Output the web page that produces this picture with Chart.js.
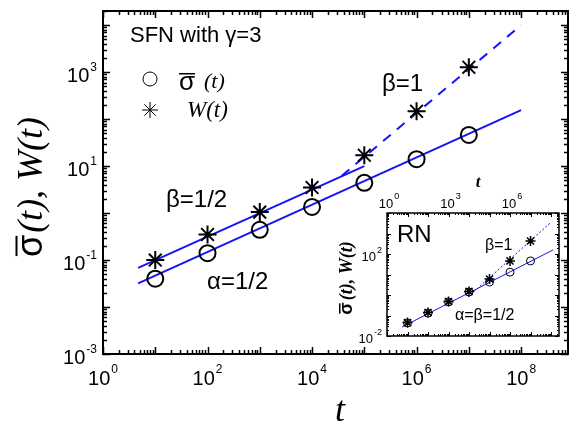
<!DOCTYPE html>
<html>
<head>
<meta charset="utf-8">
<script src="https://cdn.jsdelivr.net/npm/chart.js@4.4.0/dist/chart.umd.min.js"></script>
<style>
  html, body { margin: 0; padding: 0; background: #fff; }
  #wrap { position: relative; width: 579px; height: 430px; }
  #main { position: absolute; left: 0; top: 0; }
  #inset { position: absolute; left: 335px; top: 170px; }
</style>
</head>
<body>
<div id="wrap">
  <canvas id="main" width="579" height="430"></canvas>
  <canvas id="inset" width="244" height="190"></canvas>
</div>
<script>
// SFN (gamma = 3), main panel
const times = [10, 100, 1e3, 1e4, 1e5, 1e6, 1e7];
const sigmaSFN = [0.04, 0.14, 0.44, 1.35, 4.4, 14, 46];
const widthSFN = [0.1, 0.35, 1.05, 3.5, 17, 147, 1270];
const fitHalfT = [4.7, 1e5];
const fitHalfY = [0.068, 10];
const fitAlphaT = [4.7, 1e8];
const fitAlphaY = [0.032, 155];
const fitOneT = [3.7e4, 1e8];
const fitOneY = [6.2, 1e4];

// RN, inset
const sigmaRN = [0.043, 0.13, 0.46, 1.4, 4.3, 13, 46];
const widthRN = [0.045, 0.14, 0.48, 1.5, 6, 46, 430];
const rnHalfT = [5.4, 1.26e8];
const rnHalfY = [0.0275, 158];
const rnOneT = [9e3, 9e7];
const rnOneY = [0.8, 3200];

// labelled decades (exponents)
const mainXLabels = [0, 2, 4, 6, 8];
const mainYLabels = [-3, -1, 1, 3];
const insetXLabels = [0, 3, 6];
const insetYLabels = [-2, 2];

const BLUE = 'rgb(20,20,245)';
const SANS = '"Liberation Sans", Arial, sans-serif';
const SERIF = '"Liberation Serif", "Times New Roman", serif';

const pts = (xs, ys) => xs.map((v, i) => ({ x: v, y: ys[i] }));

function lineSet(xs, ys, width, dash) {
  return {
    data: pts(xs, ys), showLine: true, borderColor: BLUE, borderWidth: width,
    borderDash: dash || [], pointRadius: 0, fill: false
  };
}
function markSet(xs, ys, style, r, bw) {
  return {
    data: pts(xs, ys), showLine: false, pointStyle: style, pointRadius: r,
    pointBorderColor: '#000', pointBackgroundColor: 'rgba(0,0,0,0)', pointBorderWidth: bw
  };
}

// every 1..9 x 10^n inside [min, max]
function logTicks(min, max) {
  const out = [];
  for (let e = Math.floor(Math.log10(min)); e <= Math.ceil(Math.log10(max)); e++) {
    for (let m = 1; m < 10; m++) {
      const v = m * Math.pow(10, e);
      if (v >= min * 0.999 && v <= max * 1.001) out.push({ v, major: m === 1 });
    }
  }
  return out;
}

// box with inward ticks on all four sides
function frameTicks(o) {
  return {
    id: 'frameTicks',
    beforeDraw(chart) {
      if (!o.fill) return;
      const a = chart.chartArea;
      chart.ctx.save();
      chart.ctx.fillStyle = '#fff';
      chart.ctx.fillRect(a.left, a.top, a.right - a.left, a.bottom - a.top);
      chart.ctx.restore();
    },
    afterDraw(chart) {
      const { ctx, chartArea: a } = chart;
      const { x, y } = chart.scales;
      ctx.save();
      ctx.strokeStyle = '#000';
      ctx.lineWidth = o.tickW;
      ctx.beginPath();
      logTicks(x.min, x.max).forEach(t => {
        const px = Math.round(x.getPixelForValue(t.v)) + 0.5;
        const len = t.major ? o.major : o.minor;
        ctx.moveTo(px, a.bottom); ctx.lineTo(px, a.bottom - len);
        ctx.moveTo(px, a.top); ctx.lineTo(px, a.top + len);
      });
      logTicks(y.min, y.max).forEach(t => {
        const py = Math.round(y.getPixelForValue(t.v)) + 0.5;
        const len = t.major ? o.major : o.minor;
        ctx.moveTo(a.left, py); ctx.lineTo(a.left + len, py);
        ctx.moveTo(a.right, py); ctx.lineTo(a.right - len, py);
      });
      ctx.stroke();
      ctx.lineWidth = o.lw;
      ctx.strokeRect(a.left, a.top, a.right - a.left, a.bottom - a.top);
      ctx.restore();
    }
  };
}

// "10" with a raised exponent
function powLabel(ctx, exp, x, base, align, big, small, raise) {
  const sup = String(exp);
  ctx.font = big + 'px ' + SANS;
  const wb = ctx.measureText('10').width;
  ctx.font = small + 'px ' + SANS;
  const ws = ctx.measureText(sup).width;
  const w = wb + ws + 1;
  const left = align === 'center' ? x - w / 2 : x - w;
  ctx.font = big + 'px ' + SANS;
  ctx.fillText('10', left, base);
  ctx.font = small + 'px ' + SANS;
  ctx.fillText(sup, left + wb + 1, base - raise);
}

// sigma with overbar followed by italic text, rotated to read upwards
function sigmaTitle(ctx, cx, cy, baseX, size, bold, barX) {
  const sFont = (bold ? 'bold ' : '') + size + 'px ' + SANS;
  const tFont = (bold ? 'bold ' : '') + 'italic ' + size + 'px ' + SERIF;
  ctx.save();
  ctx.translate(cx, cy);
  ctx.rotate(-Math.PI / 2);
  ctx.font = sFont;
  const ws = ctx.measureText('σ').width;
  ctx.font = tFont;
  const wt = ctx.measureText('(t), W(t)').width;
  const start = -(ws + wt) / 2;
  ctx.font = sFont;
  ctx.fillText('σ', start, baseX);
  ctx.fillRect(start + 1, barX, ws - 2, bold ? 1.5 : 2);
  ctx.font = tFont;
  ctx.fillText('(t), W(t)', start + ws + 2, baseX);
  ctx.restore();
}

const mainText = {
  id: 'mainText',
  afterDraw(chart) {
    const ctx = chart.ctx;
    const { x, y } = chart.scales;
    ctx.save();
    ctx.fillStyle = '#000';
    ctx.textAlign = 'left';
    ctx.textBaseline = 'alphabetic';
    mainXLabels.forEach(e => powLabel(ctx, e, x.getPixelForValue(Math.pow(10, e)), 385, 'center', 20, 12, 12));
    mainYLabels.forEach(e => powLabel(ctx, e, 97, y.getPixelForValue(Math.pow(10, e)) + 10, 'right', 20, 12, 11));

    ctx.font = '22px ' + SANS;
    ctx.fillText('SFN with γ=3', 130, 42);

    // legend
    ctx.strokeStyle = '#000';
    ctx.fillStyle = 'rgba(0,0,0,0)';
    Chart.helpers.drawPoint(ctx, { pointStyle: 'circle', radius: 7, borderWidth: 2, rotation: 0 }, 150, 79);
    Chart.helpers.drawPoint(ctx, { pointStyle: 'star', radius: 8, borderWidth: 2, rotation: 0 }, 150, 110);
    ctx.fillStyle = '#000';
    ctx.font = '26px ' + SANS;
    const sw = ctx.measureText('σ').width;
    ctx.fillText('σ', 179, 90);
    ctx.fillRect(179, 73, sw, 1.5);
    ctx.font = 'italic 22px ' + SERIF;
    ctx.fillText('(t)', 204, 88);
    ctx.font = 'italic 23px ' + SERIF;
    ctx.fillText('W(t)', 187, 117);

    ctx.font = '24px ' + SANS;
    ctx.fillText('β=1/2', 166, 207);
    ctx.fillText('α=1/2', 207, 289);
    ctx.fillText('β=1', 382, 91);

    ctx.font = 'italic 36px ' + SERIF;
    ctx.textAlign = 'center';
    ctx.fillText('t', 340, 421);
    ctx.textAlign = 'left';

    sigmaTitle(ctx, 0, 188, 42, 36, false, 15.5);
    ctx.restore();
  }
};

const insetText = {
  id: 'insetText',
  afterDraw(chart) {
    const ctx = chart.ctx;
    const { x, y } = chart.scales;
    ctx.save();
    ctx.fillStyle = '#000';
    ctx.textAlign = 'left';
    ctx.textBaseline = 'alphabetic';
    insetXLabels.forEach(e => powLabel(ctx, e, x.getPixelForValue(Math.pow(10, e)) + 2, 38, 'center', 13, 9, 9));
    insetYLabels.forEach(e => powLabel(ctx, e, 47, y.getPixelForValue(Math.pow(10, e)) + 7, 'right', 13, 9, 8));

    ctx.font = 'bold italic 17px ' + SERIF;
    ctx.textAlign = 'center';
    ctx.fillText('t', 143, 17);
    ctx.textAlign = 'left';

    ctx.font = '24px ' + SANS;
    ctx.fillText('RN', 62, 72);
    ctx.font = '16px ' + SANS;
    ctx.fillText('β=1', 150, 80);
    ctx.fillText('α=β=1/2', 120, 150);

    sigmaTitle(ctx, 0, 109, 17, 18, true, 4);
    ctx.restore();
  }
};

new Chart(document.getElementById('main').getContext('2d'), {
  type: 'scatter',
  data: {
    datasets: [
      markSet(times, sigmaSFN, 'circle', 8, 2),
      markSet(times, widthSFN, 'star', 9, 2),
      lineSet(fitHalfT, fitHalfY, 2),
      lineSet(fitAlphaT, fitAlphaY, 2),
      lineSet(fitOneT, fitOneY, 2, [10, 8])
    ]
  },
  options: {
    responsive: false,
    animation: false,
    events: [],
    layout: { padding: { left: 103, top: 5, right: 1, bottom: 76 } },
    scales: {
      x: { type: 'logarithmic', min: 1, max: 7.9e8, display: false },
      y: { type: 'logarithmic', min: 1e-3, max: 2e4, display: false }
    },
    plugins: { legend: { display: false }, tooltip: { enabled: false } }
  },
  plugins: [frameTicks({ lw: 2, tickW: 1.5, major: 7, minor: 4 }), mainText]
});

new Chart(document.getElementById('inset').getContext('2d'), {
  type: 'scatter',
  data: {
    datasets: [
      markSet(times, widthRN, 'star', 5, 1.5),
      markSet(times, sigmaRN, 'circle', 4, 1),
      lineSet(rnHalfT, rnHalfY, 1),
      lineSet(rnOneT, rnOneY, 1, [2, 2])
    ]
  },
  options: {
    responsive: false,
    animation: false,
    events: [],
    layout: { padding: { left: 52, top: 43, right: 20, bottom: 24 } },
    scales: {
      x: { type: 'logarithmic', min: 1, max: 2.45e8, display: false },
      y: { type: 'logarithmic', min: 1e-2, max: 1e4, display: false }
    },
    plugins: { legend: { display: false }, tooltip: { enabled: false } }
  },
  plugins: [frameTicks({ lw: 1.5, tickW: 1, major: 4, minor: 2, fill: true }), insetText]
});
</script>
</body>
</html>
